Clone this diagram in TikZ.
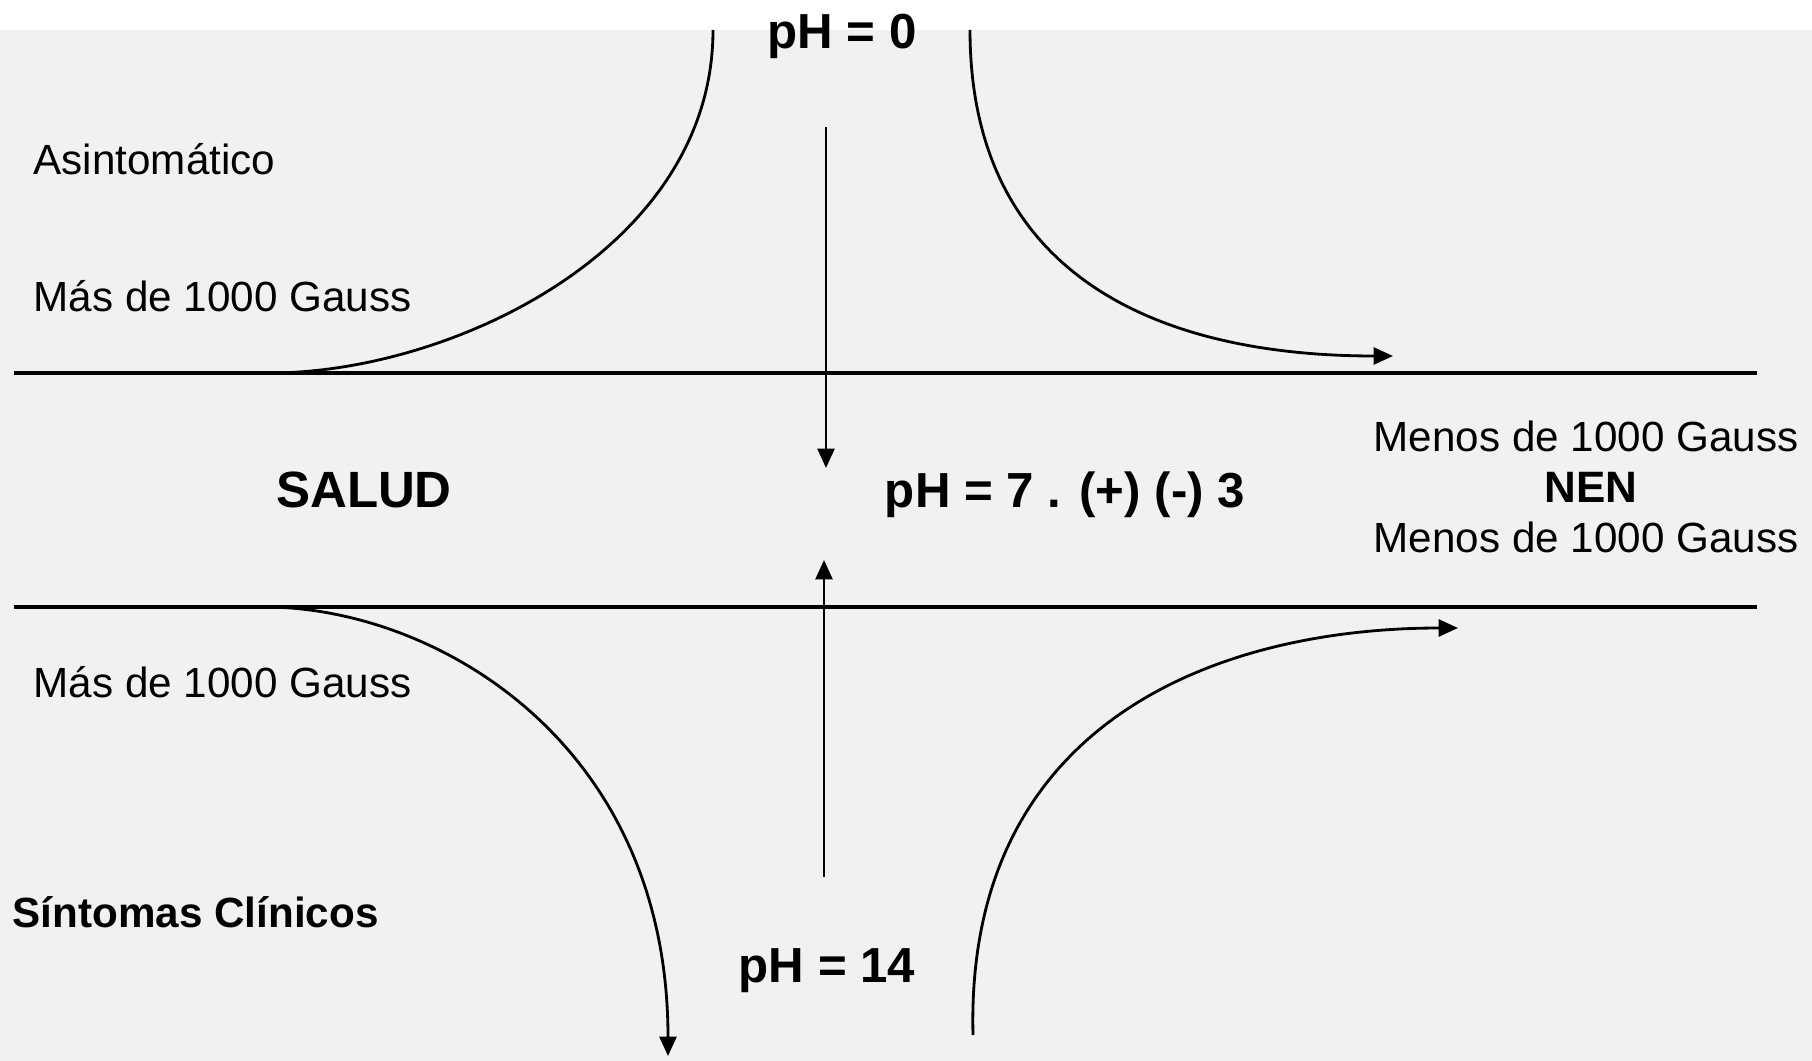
\documentclass[tikz,border=0pt]{standalone}
\usepackage{fontspec}
\setmainfont{Liberation Sans}
\usetikzlibrary{arrows.meta}
\definecolor{paper}{HTML}{F1F1F1}
\tikzset{
  lbl/.style   ={font=\fontsize{12}{14}\selectfont, inner sep=0pt, anchor=base west},
  lblc/.style  ={font=\fontsize{12}{14}\selectfont, inner sep=0pt, anchor=base},
  phlbl/.style ={font=\fontsize{14}{16}\selectfont\bfseries, inner sep=0pt, anchor=base},
  zone/.style  ={font=\fontsize{14.5}{17}\selectfont\bfseries, inner sep=0pt, anchor=base},
  % the two pH borders
  limit/.style ={draw=black, line width=1pt},
  trend/.style ={draw=black, line width=0.8pt},
  flow/.style  ={trend, -{Triangle[length=5.5pt,width=4.8pt]}},
}
\begin{document}
\begin{tikzpicture}[x=0.01cm,y=-0.01cm]
\fill[paper] (0,0) rectangle (1812,1061);
\fill[white] (0,0) rectangle (1812,30);
\useasboundingbox (0,0) rectangle (1812,1061);
% borders
\coordinate (tl) at (14,373);  \coordinate (tr) at (1757,373);
\coordinate (bl) at (14,607);  \coordinate (br) at (1757,607);
\draw[limit] (tl) -- (tr);
\draw[limit] (bl) -- (br);
% texts
\node[phlbl] (ph0)  at (842,49)  {pH = 0};
\node[phlbl] (ph7)  at (1065,508) {pH = 7 . (+) (-) 3};
\node[phlbl] (ph14) at (827,982) {pH = 14};
\node[zone]  (salud) at (364,508) {SALUD};
\node[font=\fontsize{12.5}{15}\selectfont\bfseries, inner sep=0pt, anchor=base] (nen) at (1591,503) {NEN};
\node[lbl] (asint) at (33,175) {Asintomático};
\node[lbl] (masA)  at (33,312) {Más de 1000 Gauss};
\node[lbl] (masB)  at (33,697) {Más de 1000 Gauss};
\node[lbl, font=\fontsize{12}{14}\selectfont\bfseries] (sint) at (12,927) {Síntomas Clínicos};
\node[lblc] (menA) at (1586,452) {Menos de 1000 Gauss};
\node[lblc] (menB) at (1586,552) {Menos de 1000 Gauss};
% curve ends
\coordinate (c1s) at (713,30);   \coordinate (c1e) at (270,373);
\coordinate (c2s) at (970,30);   \coordinate (c2e) at (1393,356);
\coordinate (c3s) at (270,607);  \coordinate (c3e) at (668,1056);
\coordinate (c4s) at (973,1035); \coordinate (c4e) at (1458,628);
\draw[trend] (c1s) .. controls (713,250) and (450,373) .. (c1e);
\draw[flow]  (c2s) .. controls (970,270) and (1150,356) .. (c2e);
\draw[flow]  (c3s) .. controls (440,610) and (668,745) .. (c3e);
\draw[flow]  (c4s) .. controls (965,720) and (1220,628) .. (c4e);
% towards neutral
\coordinate (dn0) at (826,127); \coordinate (dn1) at (826,468);
\coordinate (up0) at (824,877); \coordinate (up1) at (824,560);
\draw[flow] (dn0) -- (dn1);
\draw[flow] (up0) -- (up1);
\end{tikzpicture}
\end{document}
